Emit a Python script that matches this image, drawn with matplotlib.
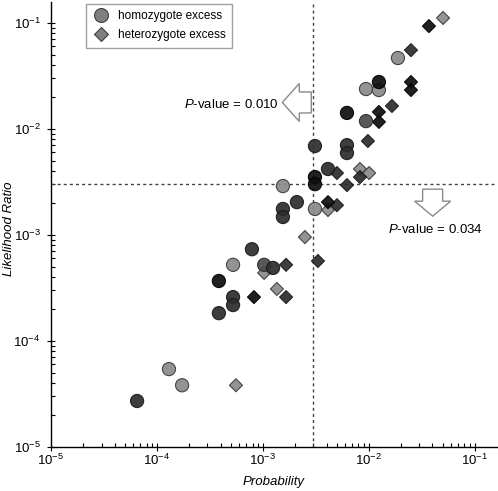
import matplotlib
matplotlib.use("Agg")
import matplotlib.pyplot as plt
import matplotlib.ticker as mticker
from matplotlib.lines import Line2D
from matplotlib.patches import Polygon
from matplotlib.transforms import ScaledTranslation, Affine2D

plt.rcParams['font.family'] = ['Liberation Sans', 'DejaVu Sans']
plt.rcParams['mathtext.fontset'] = 'custom'
plt.rcParams['mathtext.rm'] = 'Liberation Sans'
plt.rcParams['mathtext.it'] = 'Liberation Sans:italic'
plt.rcParams['mathtext.bf'] = 'Liberation Sans:bold'

# ---- data ----
homo_prob = [6.5e-5, 1.30e-4, 1.73e-4, 5.24e-4, 3.85e-4, 5.24e-4, 5.24e-4, 3.85e-4,
             1.03e-3, 1.25e-3, 7.9e-4, 1.55e-3, 2.10e-3, 1.55e-3, 1.55e-3, 3.11e-3,
             3.11e-3, 3.11e-3, 4.13e-3, 3.11e-3, 6.24e-3, 6.24e-3, 6.24e-3, 9.44e-3,
             9.44e-3, 1.25e-2, 1.25e-2, 1.89e-2]
homo_lr = [2.7e-5, 5.4e-5, 3.8e-5, 5.2e-4, 3.66e-4, 2.58e-4, 2.17e-4, 1.82e-4,
           5.2e-4, 4.86e-4, 7.3e-4, 2.88e-3, 2.03e-3, 1.75e-3, 1.47e-3, 1.75e-3,
           3.50e-3, 3.0e-3, 4.17e-3, 6.87e-3, 7.0e-3, 5.9e-3, 1.41e-2, 1.18e-2,
           2.37e-2, 2.32e-2, 2.76e-2, 4.65e-2]
homo_shade = ['dark', 'light', 'light', 'light', 'black', 'dark', 'dark', 'dark',
              'medium', 'dark', 'dark', 'light', 'dark', 'dark', 'dark', 'light',
              'black', 'black', 'dark', 'dark', 'dark', 'dark', 'black', 'medium',
              'light', 'light', 'black', 'light']

het_prob = [5.58e-4, 1.03e-3, 1.66e-3, 8.26e-4, 1.36e-3, 1.66e-3, 2.50e-3, 3.32e-3,
            5.02e-3, 6.24e-3, 4.13e-3, 5.02e-3, 4.13e-3, 8.28e-3, 1.01e-2, 8.28e-3,
            9.84e-3, 1.25e-2, 1.25e-2, 1.66e-2, 2.51e-2, 2.51e-2, 2.51e-2, 3.71e-2,
            5.04e-2]
het_lr = [3.8e-5, 4.36e-4, 5.2e-4, 2.58e-4, 3.08e-4, 2.58e-4, 9.5e-4, 5.65e-4,
          3.82e-3, 2.94e-3, 2.03e-3, 1.90e-3, 1.71e-3, 4.17e-3, 3.82e-3, 3.50e-3,
          7.66e-3, 1.44e-2, 1.16e-2, 1.64e-2, 2.76e-2, 2.32e-2, 5.52e-2, 9.3e-2,
          0.111]
het_shade = ['light', 'light', 'dark', 'black', 'light', 'dark', 'light', 'dark',
             'dark', 'dark', 'black', 'dark', 'light', 'light', 'light', 'dark',
             'dark', 'black', 'black', 'dark', 'black', 'black', 'dark', 'black',
             'light']

prob_threshold = 0.003
lr_threshold = 0.003
labels = ['homozygote excess', 'heterozygote excess']

# ---- styles ----
shade_color = {'light': '#8a8a8a', 'medium': '#4a4a4a', 'dark': '#2c2c2c', 'black': '#0e0e0e'}
shade_edge = {'light': '#3a3a3a', 'medium': '#2a2a2a', 'dark': '#1a1a1a', 'black': '#000000'}

fig = plt.figure(figsize=(4.98, 4.91), dpi=100)
ax = fig.add_axes([51/498, (491-446.7)/491, (497-51)/498, (446.7-2)/491])
ax.set_xscale('log')
ax.set_yscale('log')
ax.set_xlim(1e-5, 0.163)
ax.set_ylim(1e-5, 0.157)

order = {'light': 0, 'medium': 1, 'dark': 2, 'black': 3}

def draw(xs, ys, shades, marker, size):
    idx = sorted(range(len(xs)), key=lambda i: order[shades[i]])
    ax.scatter([xs[i] for i in idx], [ys[i] for i in idx], s=size, marker=marker,
               c=[shade_color[shades[i]] for i in idx],
               edgecolors=[shade_edge[shades[i]] for i in idx],
               linewidths=0.8, alpha=0.92, zorder=3)

draw(het_prob, het_lr, het_shade, 'D', 44)
draw(homo_prob, homo_lr, homo_shade, 'o', 90)

ax.axvline(prob_threshold, color='#444444', lw=1, ls=(0, (2.2, 2.2)), zorder=2)
ax.axhline(lr_threshold, color='#444444', lw=1, ls=(0, (2.2, 2.2)), zorder=2)

# spines / ticks
for s in ['top', 'right']:
    ax.spines[s].set_visible(False)
for s in ['left', 'bottom']:
    ax.spines[s].set_linewidth(1.0)
ax.xaxis.set_major_locator(mticker.LogLocator(base=10, numticks=10))
ax.yaxis.set_major_locator(mticker.LogLocator(base=10, numticks=10))
ax.xaxis.set_minor_locator(mticker.LogLocator(base=10, subs=range(2, 10), numticks=20))
ax.yaxis.set_minor_locator(mticker.LogLocator(base=10, subs=range(2, 10), numticks=20))
ax.xaxis.set_minor_formatter(mticker.NullFormatter())
ax.yaxis.set_minor_formatter(mticker.NullFormatter())
ax.tick_params(which='major', direction='inout', length=6, width=0.8, labelsize=9.5)
ax.tick_params(axis='x', which='major', pad=1.5)
ax.tick_params(axis='y', which='major', pad=4.5)
ax.tick_params(which='minor', direction='in', length=3, width=0.8)

ax.set_xlabel('Probability', fontsize=9.5, style='italic', labelpad=6)
ax.set_ylabel('Likelihood Ratio', fontsize=9.5, style='italic')
ax.yaxis.label.set(va='center', ha='center', rotation_mode='default')
ax.yaxis.set_label_coords(-0.094, 0.49)

# legend
handles = [Line2D([], [], ls='none', marker='o', ms=10, mfc='#808080', mec='#404040', mew=0.8),
           Line2D([], [], ls='none', marker='D', ms=7, mfc='#808080', mec='#404040', mew=0.8)]
leg = ax.legend(handles, labels, loc='upper left', bbox_to_anchor=(0.078, 0.996),
                borderaxespad=0, fontsize=8.5, frameon=True, fancybox=False,
                handletextpad=0.7, labelspacing=0.6, borderpad=0.55, handlelength=1.5)
leg.get_frame().set_edgecolor('#888888')
leg.get_frame().set_linewidth(1.0)

# hollow arrows (shape in pixels / 100 = inches)
def hollow_arrow(pts_px, anchor):
    tr = Affine2D().scale(1/100.0) + fig.dpi_scale_trans + ScaledTranslation(anchor[0], anchor[1], ax.transData)
    poly = Polygon(pts_px, closed=True, facecolor='white', edgecolor='#8a8a8a', lw=1.0,
                   transform=tr, zorder=4, clip_on=False)
    ax.add_patch(poly)

left_arrow = [(-2, 10.5), (-14, 10.5), (-14, 19), (-31, 0), (-14, -19), (-14, -10.5), (-2, -10.5)]
hollow_arrow(left_arrow, (prob_threshold, 0.0177))
down_arrow = [(-10, -5), (10, -5), (10, -17), (18, -17), (0, -32), (-18, -17), (-10, -17)]
hollow_arrow(down_arrow, (0.0402, lr_threshold))

ax.text(0.00142, 0.0171, r'$\it{P}$-value = 0.010', ha='right', va='center', fontsize=9.5)
ax.text(0.0152, 0.00111, r'$\it{P}$-value = 0.034', ha='left', va='center', fontsize=9.5)

fig.savefig('out.png', dpi=100)
